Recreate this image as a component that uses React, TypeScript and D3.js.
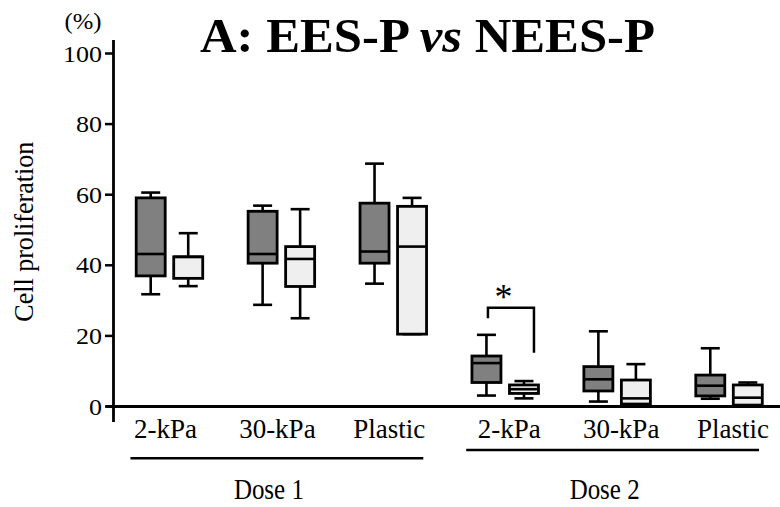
import React from "react";
import * as d3 from "d3";

// Substrate stiffness groups, repeated for each dose
const categories = ["2-kPa", "30-kPa", "Plastic", "2-kPa", "30-kPa", "Plastic"];
const doses = ["Dose 1", "Dose 2"];
const series = ["EES-P", "NEES-P"];
const yTicks = [0, 20, 40, 60, 80, 100];

// Box-plot summaries per group: [min, q1, median, q3, max] (%)
const eesP: number[][] = [
  [31.8, 37.0, 43.2, 59.1, 60.6],
  [28.8, 40.6, 43.2, 55.3, 56.9],
  [34.8, 40.6, 43.9, 57.6, 68.8],
  [3.1, 6.8, 12.3, 14.3, 20.3],
  [1.4, 4.4, 7.7, 11.3, 21.3],
  [2.2, 3.0, 5.9, 8.9, 16.5],
];
const neesP: number[][] = [
  [34.1, 36.3, 42.4, 42.4, 49.1],
  [25.0, 34.0, 41.8, 45.3, 55.9],
  [20.5, 20.5, 45.3, 56.7, 59.1],
  [2.3, 3.7, 4.9, 6.1, 7.2],
  [0.5, 0.7, 2.3, 7.5, 12.0],
  [0.4, 0.4, 2.5, 6.1, 6.8],
];
// Significance bracket for Dose 2 / 2-kPa: [top, left end, right end] (%)
const sigBracket = [28, 25, 15.2];
const sigGroup = 3;

const W = 780;
const H = 507;
const FONT = "'Liberation Serif', 'Times New Roman', Times, serif";
const fills = ["#808080", "#efefef"];
const txt = { fontFamily: FONT, fill: "#000" };

export default function App() {
  const y = d3.scaleLinear().domain([0, 100]).range([406.5, 53.5]);
  const x = d3
    .scaleBand<number>()
    .domain(d3.range(categories.length))
    .range([113.5, 785])
    .padding(0);
  const sub = d3
    .scaleBand<string>()
    .domain(series)
    .range([-37.5, 37.5])
    .paddingInner(0.227)
    .paddingOuter(0.113);
  const bw = sub.bandwidth();
  const capW = 19;
  const center = (i: number) => (x(i) as number) + x.bandwidth() / 2;
  const subCenter = (s: string) => (sub(s) as number) + bw / 2;

  const boxes = categories.flatMap((_, i) =>
    series.map((s, k) => ({
      i,
      s,
      k,
      stats: (k === 0 ? eesP : neesP)[i],
      cx: center(i) + subCenter(s),
    }))
  );

  const xAxisY = y(0);
  const sigLeft = center(sigGroup) + subCenter(series[0]) + 1.5;
  const sigRight = center(sigGroup) + subCenter(series[1]) + 10;

  return (
    <svg
      width={W}
      height={H}
      style={{ position: "absolute", left: 0, top: 0, background: "#fff" }}
    >
      {/* Title */}
      <text
        x={200}
        y={51.7}
        fontSize={48}
        fontWeight="bold"
        textLength={455}
        lengthAdjust="spacingAndGlyphs"
        style={txt}
      >
        A: EES-P <tspan fontStyle="italic">vs</tspan> NEES-P
      </text>

      {/* Y axis */}
      <line x1={113.5} x2={113.5} y1={40} y2={422} stroke="#000" strokeWidth={2.8} />
      {yTicks.map((t) => (
        <g key={t}>
          <line x1={105} x2={113.5} y1={y(t)} y2={y(t)} stroke="#000" strokeWidth={2.5} />
          <text
            x={102}
            y={y(t) + 8}
            fontSize={24}
            textAnchor="end"
            textLength={String(t).length * 13}
            lengthAdjust="spacingAndGlyphs"
            style={txt}
          >
            {t}
          </text>
        </g>
      ))}
      <text
        x={83}
        y={28.5}
        fontSize={24}
        textAnchor="middle"
        textLength={37}
        lengthAdjust="spacingAndGlyphs"
        style={txt}
      >
        (%)
      </text>
      <text
        transform={`translate(33, 231.7) rotate(-90)`}
        fontSize={27}
        textAnchor="middle"
        textLength={180}
        lengthAdjust="spacingAndGlyphs"
        style={txt}
      >
        Cell proliferation
      </text>

      {/* X axis */}
      <line x1={106} x2={W} y1={xAxisY} y2={xAxisY} stroke="#000" strokeWidth={2.8} />

      {/* Boxes */}
      {boxes.map((b) => {
        const [mn, q1, md, q3, mx] = b.stats;
        const x0 = b.cx - bw / 2;
        return (
          <g key={`${b.i}-${b.s}`} stroke="#000" strokeWidth={2.6}>
            <line x1={b.cx} x2={b.cx} y1={y(mx)} y2={y(q3)} />
            <line x1={b.cx} x2={b.cx} y1={y(q1)} y2={y(mn)} />
            <line x1={b.cx - capW / 2} x2={b.cx + capW / 2} y1={y(mx)} y2={y(mx)} />
            <line x1={b.cx - capW / 2} x2={b.cx + capW / 2} y1={y(mn)} y2={y(mn)} />
            <rect
              x={x0}
              y={y(q3)}
              width={bw}
              height={Math.max(0, y(q1) - y(q3))}
              fill={fills[b.k]}
              strokeWidth={2.8}
            />
            <line x1={x0} x2={x0 + bw} y1={y(md)} y2={y(md)} />
          </g>
        );
      })}

      {/* Significance bracket */}
      <path
        d={`M${sigLeft},${y(sigBracket[1])}V${y(sigBracket[0])}H${sigRight}V${y(sigBracket[2])}`}
        fill="none"
        stroke="#000"
        strokeWidth={2.5}
      />
      <text x={503.5} y={309} fontSize={36} textAnchor="middle" style={txt}>
        *
      </text>

      {/* Category labels */}
      {categories.map((c, i) => (
        <text
          key={i}
          x={center(i) + (i < 3 ? -4 : 4)}
          y={438}
          fontSize={27}
          textAnchor="middle"
          style={txt}
        >
          {c}
        </text>
      ))}

      {/* Dose groupings */}
      {doses.map((d, j) => {
        const first = center(j * 3);
        const last = center(j * 3 + 2);
        const ly = j === 0 ? 458.3 : 450;
        return (
          <g key={d}>
            <line x1={first - 39} x2={last + 30} y1={ly} y2={ly} stroke="#000" strokeWidth={2.5} />
            <text
              x={(first - 39 + last + 30) / 2 - 8}
              y={499}
              fontSize={29}
              textAnchor="middle"
              textLength={70}
              lengthAdjust="spacingAndGlyphs"
              style={txt}
            >
              {d}
            </text>
          </g>
        );
      })}
    </svg>
  );
}
